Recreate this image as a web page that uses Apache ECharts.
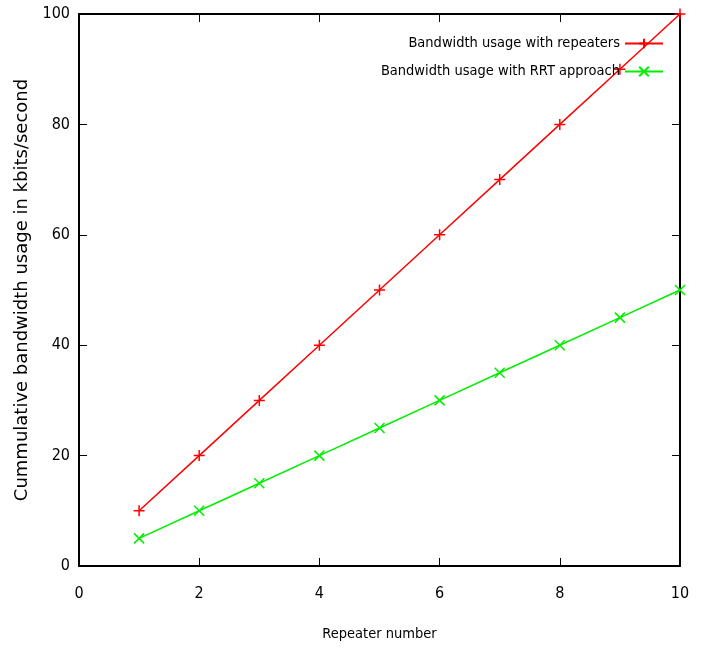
<!DOCTYPE html>
<html><head><meta charset="utf-8">
<script src="https://cdn.jsdelivr.net/npm/echarts@6/dist/echarts.min.js"></script>
<style>html,body{margin:0;padding:0;background:#fff}#c{width:704px;height:649px}</style>
</head><body><div id="c"></div>
<script>
const repeaterNumbers = [1,2,3,4,5,6,7,8,9,10];
const withRepeaters = [10,20,30,40,50,60,70,80,90,100];
const withRRT = [5,10,15,20,25,30,35,40,45,50];
const seriesNames = ['Bandwidth usage with repeaters','Bandwidth usage with RRT approach'];
const xTicks = [0,2,4,6,8,10];
const yTicks = [0,20,40,60,80,100];

const narrow = "'Liberation Sans Narrow','DejaVu Sans Condensed',sans-serif";
const plusPath = 'path://M0,5L10,5M5,0L5,10';
const crossPath = 'path://M0,0L10,10M10,0L0,10';

const chart = echarts.init(document.getElementById('c'));
const axLine = {show:true, onZero:false, lineStyle:{color:'#000', width:2}};
const tick = {show:true, inside:true, length:8, lineStyle:{color:'#000', width:1}};
function pair(a){ return repeaterNumbers.map((x,i)=>[x,a[i]]); }
const legendCommon = {right:35, align:'right', itemWidth:38, itemHeight:12, itemGap:0,
  textStyle:{fontFamily:narrow, fontSize:14.5, color:'#000'}};
chart.setOption({
  animation:false,
  grid:{left:79, right:24, top:14, bottom:83, containLabel:false, outerBoundsMode:'none'},
  legend:[
    Object.assign({data:[seriesNames[0]], top:31}, legendCommon),
    Object.assign({data:[seriesNames[1]], top:59}, legendCommon)
  ],
  xAxis:[
    {type:'value', min:0, max:10, interval:2, axisLine:axLine, axisTick:tick, splitLine:{show:false},
     axisLabel:{fontFamily:narrow, fontSize:16, color:'#000', margin:20,
       formatter:v=>xTicks.includes(v)?String(v):''},
     name:'Repeater number', nameLocation:'middle', nameGap:61,
     nameTextStyle:{fontFamily:narrow, fontSize:14.5, color:'#000'}},
    {type:'value', position:'top', min:0, max:10, interval:2, axisLine:axLine, axisTick:tick,
     axisLabel:{show:false}, splitLine:{show:false}}
  ],
  yAxis:[
    {type:'value', min:0, max:100, interval:20, axisLine:axLine, axisTick:tick, splitLine:{show:false},
     axisLabel:{fontFamily:narrow, fontSize:16, color:'#000', margin:9,
       formatter:v=>yTicks.includes(v)?String(v):''},
     name:'Cummulative bandwidth usage in kbits/second', nameLocation:'middle', nameGap:48,
     nameTextStyle:{fontFamily:"'DejaVu Sans',sans-serif", fontSize:18, color:'#000'}},
    {type:'value', position:'right', min:0, max:100, interval:20, axisLine:axLine, axisTick:tick,
     axisLabel:{show:false}, splitLine:{show:false}}
  ],
  series:[
    {name:seriesNames[0], type:'line', data:pair(withRepeaters), symbol:plusPath, symbolSize:11,
     lineStyle:{color:'#ff0000', width:1.5},
     itemStyle:{color:'#ff0000', borderColor:'#ff0000', borderWidth:1.5}},
    {name:seriesNames[1], type:'line', data:pair(withRRT), symbol:crossPath, symbolSize:10,
     lineStyle:{color:'#00ee00', width:1.5},
     itemStyle:{color:'#00ee00', borderColor:'#00ee00', borderWidth:1.5}}
  ]
});
</script></body></html>
